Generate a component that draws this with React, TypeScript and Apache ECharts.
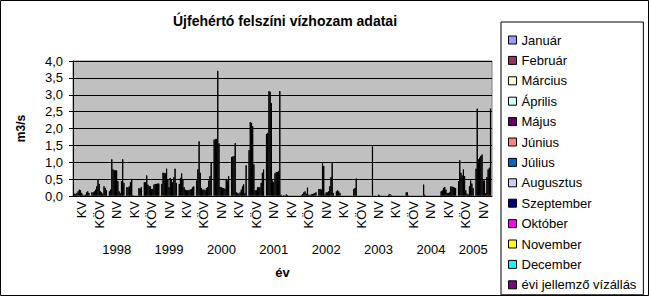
import React, { useEffect, useRef } from "react";
import * as echarts from "echarts";

const years = ["1998", "1999", "2000", "2001", "2002", "2003", "2004", "2005"];
const subCategories = ["KV", "KÖV", "NV"];
const categories = years.flatMap(() => subCategories);

const seriesNames = [
  "Január", "Február", "Március", "Április", "Május", "Június", "Július",
  "Augusztus", "Szeptember", "Október", "November", "December", "évi jellemző vízállás",
];
const seriesColors = [
  "#9999FF", "#993366", "#FFFFCC", "#CCFFFF", "#660066", "#FF8080", "#0066CC",
  "#CCCCFF", "#000080", "#FF00FF", "#FFFF00", "#00FFFF", "#800080",
];

const januar = [0.08, 0.12, 0.15, 0.27, 0.42, 0.37, 0.37, 0.47, 1.68, 1.17, 1.37, 1.85, 0.02, 0.04, 0.22, 0.15, 0.22, null, 0.05, 0.12, 0.35, 0.15, 0.45, 0.82];
const februar = [0.07, 0.12, 0.2, 0.27, 0.42, 0.7, 0.55, 0.8, 1.7, 1.18, 2.2, 1.88, 0.03, 0.07, 0.22, 0.18, 0.25, 1.48, 0.07, 0.12, 0.05, 0.18, 1.07, 2.6];
const marcius = [0.1, 0.15, 1.1, 0.3, 0.62, 0.7, 0.68, 1.63, 1.7, 1.2, 2.18, 3.12, 0.06, 0.12, 0.2, 0.15, 0.53, null, 0.02, 0.03, null, 0.25, 0.7, 1.1];
const aprilis = [0.15, 0.2, 0.8, 0.42, 0.35, 0.68, 0.5, 0.7, 3.72, 1.58, 2.08, 3.1, 0.02, 0.15, 0.99, 0.1, null, null, null, null, null, 0.28, 0.62, 1.15];
const majus = [0.2, 0.3, 0.78, 0.52, 0.3, 0.82, 0.27, 0.25, 1.57, 0.12, 0.95, 2.76, null, 0.08, 0.9, null, null, null, null, null, null, 0.2, 0.8, 1.2];
const junius = [0.18, 0.5, 0.77, 0.02, 0.3, 0.5, 0.2, 0.2, 0.28, 0.1, 0.18, 0.47, null, 0.26, 0.06, null, null, null, null, null, null, 0.1, 0.6, 1.24];
const julius = [0.1, 0.37, 0.77, null, 0.22, 0.27, 0.18, 0.2, 0.27, 0.08, 0.18, 0.42, null, 0.05, 0.12, null, null, 0.05, null, null, null, 0.1, 0.18, 0.47];
const augusztus = [0.05, 0.15, 0.45, null, 0.22, 0.55, 0.18, 0.18, 0.25, 0.12, 0.27, 0.68, null, 0.04, 0.12, null, null, 0.02, null, null, null, 0.12, 0.08, 0.47];
const szeptember = [0.03, 0.12, 0.15, null, 0.35, 0.5, 0.18, 0.25, 0.25, 0.2, 0.27, 0.72, null, 0.06, 0.15, null, null, null, null, null, null, 0.29, 0.05, 0.1];
const oktober = [0.05, 0.08, 0.1, null, 0.37, 0.42, 0.2, 0.27, 0.22, 0.3, 0.27, 0.72, null, 0.07, 0.3, null, null, null, null, null, null, 0.29, 0.3, 0.57];
const november = [0.12, 0.3, 0.45, 0.24, 0.37, 0.57, 0.22, 0.47, 0.52, 0.36, 0.4, 0.75, null, 0.08, 0.57, null, null, null, null, null, null, 0.28, 0.47, 0.8];
const december = [0.15, 0.25, 1.1, 0.24, 0.38, 0.82, 0.27, 0.6, 0.47, 0.1, 0.7, 3.12, null, 0.1, 0.99, null, null, null, null, null, null, 0.26, 0.38, 0.85];
const eviJellemzo = [0.1, 0.18, 0.4, 0.27, 0.38, 0.4, 0.3, 1.0, 0.6, 0.92, 0.8, 0.05, null, 0.12, 0.1, null, null, null, null, null, null, 0.25, 0.25, 2.6];

const seriesValues = [
  januar, februar, marcius, aprilis, majus, junius, julius,
  augusztus, szeptember, oktober, november, december, eviJellemzo,
];

const FONT = "'Liberation Sans', Arial, sans-serif";

export default function App() {
  const ref = useRef<HTMLDivElement>(null);
  useEffect(() => {
    if (!ref.current) return;
    const chart = echarts.init(ref.current, undefined, { renderer: "svg" });
    chart.setOption({
      animation: false,
      backgroundColor: "#FFFFFF",
      textStyle: { fontFamily: FONT, color: "#000" },
      title: {
        text: "Újfehértó felszíni vízhozam adatai",
        left: 280,
        top: 9,
        textAlign: "center",
        textStyle: {
          fontFamily: "'Liberation Sans Narrow', 'Liberation Sans', Arial, sans-serif",
          fontWeight: "bold",
          fontSize: 14,
          color: "#000",
        },
      },
      legend: {
        orient: "vertical",
        left: 501,
        top: 22,
        padding: [11, 7, 3, 7],
        borderColor: "#000",
        borderWidth: 1,
        itemWidth: 8,
        itemHeight: 8,
        itemGap: 6.4,
        icon: "rect",
        itemStyle: { borderColor: "#000", borderWidth: 1 },
        textStyle: { fontFamily: FONT, fontSize: 13, color: "#000", lineHeight: 14 },
        data: seriesNames,
      },
      graphic: [
        {
          type: "rect",
          shape: { x: 0.5, y: 0.5, width: 648, height: 295 },
          style: { fill: "none", stroke: "#000", lineWidth: 1 },
          silent: true,
          z: 100,
        },
      ],
      grid: {
        left: 73,
        right: 157,
        top: 61,
        bottom: 100,
        show: true,
        backgroundColor: "#C0C0C0",
        borderColor: "#808080",
        borderWidth: 1,
      },
      xAxis: [
        {
          type: "category",
          data: categories,
          position: "bottom",
          axisLine: { show: true, lineStyle: { color: "#000", width: 1 } },
          axisTick: { show: false },
          axisLabel: {
            interval: 0,
            rotate: 90,
            margin: 5,
            fontSize: 13,
            color: "#000",
            fontFamily: FONT,
          },
        },
        {
          type: "category",
          data: categories,
          position: "bottom",
          axisLine: { show: false },
          axisTick: { show: false },
          axisLabel: {
            interval: 0,
            margin: 47,
            fontSize: 13,
            color: "#000",
            fontFamily: FONT,
            formatter: (_v: string, idx: number) => {
              if (idx % 3 !== 2) return "";
              const y = years[Math.floor(idx / 3)];
              return idx === categories.length - 1 ? "{last|" + y + "}" : y;
            },
            rich: { last: { fontSize: 13, fontFamily: FONT, color: "#000", padding: [0, 20, 0, 0] } },
          },
          name: "év",
          nameLocation: "middle",
          nameGap: 70,
          nameTextStyle: { fontWeight: "bold", fontSize: 13, color: "#000", fontFamily: FONT },
        },
      ],
      yAxis: {
        type: "value",
        min: 0,
        max: 4,
        interval: 0.5,
        name: "m3/s",
        nameLocation: "middle",
        nameRotate: 90,
        nameGap: 46,
        nameTextStyle: { fontWeight: "bold", fontSize: 12, color: "#000", fontFamily: FONT },
        axisLine: { show: true, lineStyle: { color: "#000", width: 1 } },
        axisTick: { show: true, length: 4, lineStyle: { color: "#000" } },
        axisLabel: {
          margin: 10,
          fontSize: 13,
          color: "#000",
          fontFamily: FONT,
          formatter: (v: number) => v.toFixed(1).replace(".", ","),
        },
        splitLine: { show: true, lineStyle: { color: "#000", width: 1 } },
      },
      series: seriesNames.map((name, i) => ({
        name,
        type: "bar",
        xAxisIndex: 0,
        data: seriesValues[i],
        barGap: "0%",
        barCategoryGap: "10%",
        itemStyle: { color: seriesColors[i], borderColor: "#000", borderWidth: 1 },
      })),
    });
    return () => chart.dispose();
  }, []);
  return (
    <div
      ref={ref}
      style={{ position: "fixed", left: 0, top: 0, width: 649, height: 296 }}
    />
  );
}
